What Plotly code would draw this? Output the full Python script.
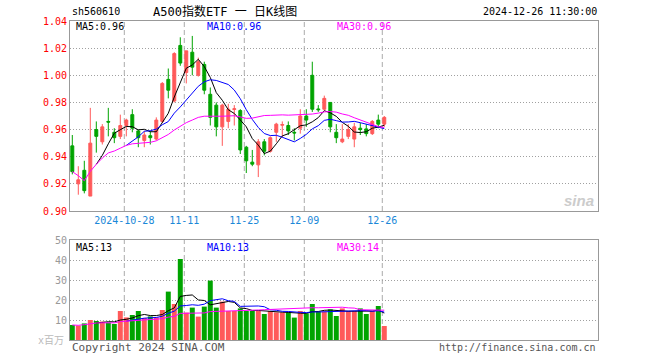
import plotly.graph_objects as go

# ---------------- data ----------------
dates = ["2024-10-15","2024-10-16","2024-10-17","2024-10-18","2024-10-21","2024-10-22","2024-10-23","2024-10-24","2024-10-25",
         "2024-10-28","2024-10-29","2024-10-30","2024-10-31","2024-11-01","2024-11-04","2024-11-05","2024-11-06","2024-11-07","2024-11-08",
         "2024-11-11","2024-11-12","2024-11-13","2024-11-14","2024-11-15","2024-11-18","2024-11-19","2024-11-20","2024-11-21","2024-11-22",
         "2024-11-25","2024-11-26","2024-11-27","2024-11-28","2024-11-29","2024-12-02","2024-12-03","2024-12-04","2024-12-05","2024-12-06",
         "2024-12-09","2024-12-10","2024-12-11","2024-12-12","2024-12-13","2024-12-16","2024-12-17","2024-12-18","2024-12-19","2024-12-20",
         "2024-12-23","2024-12-24","2024-12-25","2024-12-26"]
opens  = [0.948,0.920,0.930,0.911,0.960,0.951,0.966,0.958,0.955,0.963,0.971,0.959,0.952,0.9555,0.953,0.966,0.997,0.981,1.022,1.002,
          1.017,1.000,1.008,0.986,0.978,0.962,0.966,0.9748,0.974,0.947,0.936,0.934,0.951,0.944,0.958,0.9632,0.963,0.958,0.961,0.970,
          1.000,0.9752,0.975,0.980,0.958,0.951,0.955,0.953,0.961,0.9605,0.957,0.967,0.964]
highs  = [0.956,0.933,0.937,0.976,0.966,0.964,0.976,0.961,0.971,0.968,0.975,0.960,0.959,0.959,0.969,0.995,1.005,1.017,1.028,1.018,
          1.029,1.013,1.010,0.991,0.980,0.979,0.979,0.978,0.975,0.948,0.945,0.953,0.953,0.955,0.965,0.966,0.966,0.961,0.975,0.975,
          1.010,0.978,0.985,0.980,0.964,0.964,0.964,0.965,0.965,0.964,0.967,0.971,0.970]
lows   = [0.927,0.912,0.913,0.911,0.943,0.949,0.955,0.950,0.953,0.955,0.958,0.947,0.947,0.949,0.952,0.965,0.983,0.980,1.007,0.994,
          1.000,0.999,0.986,0.963,0.955,0.948,0.961,0.963,0.942,0.928,0.933,0.925,0.941,0.943,0.951,0.954,0.956,0.952,0.957,0.962,
          0.973,0.973,0.974,0.958,0.950,0.950,0.953,0.947,0.956,0.955,0.956,0.961,0.962]
closes = [0.929,0.923,0.915,0.950,0.955,0.962,0.9655,0.954,0.963,0.967,0.961,0.954,0.956,0.954,0.967,0.994,0.989,1.016,1.009,1.018,
          1.006,1.010,0.989,0.969,0.962,0.978,0.975,0.9753,0.945,0.937,0.9345,0.951,0.944,0.954,0.964,0.9637,0.959,0.9575,0.970,0.967,
          0.975,0.9746,0.983,0.962,0.954,0.953,0.960,0.962,0.960,0.957,0.966,0.964,0.969]
volumes = [7.5,7.2,8.3,10.0,9.5,9.2,8.7,8.0,14.5,11.3,12.5,14.5,11.0,11.8,11.3,15.0,24.2,18.0,40.5,13.7,
           16.2,11.7,16.7,29.7,16.2,19.2,14.5,14.5,15.8,14.5,14.5,14.5,13.0,14.5,13.8,13.8,13.8,11.2,14.5,13.3,
           18.0,14.2,14.2,15.3,12.0,15.8,14.5,14.5,15.8,13.0,14.5,17.0,7.0]
tick_dates  = ["2024-10-28","2024-11-11","2024-11-25","2024-12-09","2024-12-26"]
tick_labels = ["2024-10-28","11-11","11-25","12-09","12-26"]
price_ticks = [0.90,0.92,0.94,0.96,0.98,1.00,1.02,1.04]
vol_ticks = [10,20,30,40,50]
price_ma_labels = ["MA5:0.96","MA10:0.96","MA30:0.96"]
vol_ma_labels = ["MA5:13","MA10:13","MA30:14"]

RED = "#FF5A5A"
GREEN = "#00A400"
MA_COLORS = ["#000000","#0000FF","#FF00FF"]
MONO = "DejaVu Sans Mono, monospace"

n = len(dates)
xs = list(range(n))

def ma(vals, k, cumulative=False):
    out = []
    for i in range(len(vals)):
        if i + 1 >= k:
            out.append(sum(vals[i+1-k:i+1]) / k)
        elif cumulative:
            out.append(sum(vals[:i+1]) / (i + 1))
        else:
            out.append(None)
    return out

fig = go.Figure()

fig.add_trace(go.Candlestick(
    x=xs, open=opens, high=highs, low=lows, close=closes,
    increasing=dict(line=dict(color=RED, width=1), fillcolor=RED),
    decreasing=dict(line=dict(color=GREEN, width=1), fillcolor=GREEN),
    xaxis="x", yaxis="y", hoverinfo="skip", whiskerwidth=0))

for k, col, cum in [(5, MA_COLORS[0], False), (10, MA_COLORS[1], False), (30, MA_COLORS[2], True)]:
    fig.add_trace(go.Scatter(x=xs, y=ma(closes, k, cum), mode="lines",
                             line=dict(color=col, width=1), xaxis="x", yaxis="y", hoverinfo="skip"))

bar_colors = [RED if c >= o else GREEN for o, c in zip(opens, closes)]
fig.add_trace(go.Bar(x=xs, y=volumes, marker=dict(color=bar_colors, line=dict(width=0)),
                     width=0.83, xaxis="x2", yaxis="y2", hoverinfo="skip"))
for k, col, cum in [(5, MA_COLORS[0], False), (10, MA_COLORS[1], False), (30, MA_COLORS[2], True)]:
    fig.add_trace(go.Scatter(x=xs, y=ma(volumes, k, cum), mode="lines",
                             line=dict(color=col, width=1), xaxis="x2", yaxis="y2", hoverinfo="skip"))

W, H = 660, 360
xl, xr = 70, 598
p_top, p_bot = 21, 211
v_top, v_bot = 240, 340
xrange = [-0.383, 87.62]
dom_x = [xl / W, xr / W]

tick_idx = [dates.index(d) - 1/3 for d in tick_dates]

axis_common = dict(showline=True, mirror=True, linecolor="#999999", linewidth=1, zeroline=False,
                   fixedrange=True, automargin=False)

fig.update_layout(
    width=W, height=H, margin=dict(l=0, r=0, t=0, b=0, autoexpand=False),
    paper_bgcolor="white", plot_bgcolor="white", showlegend=False,
    boxgap=0.3,
    xaxis=dict(domain=dom_x, range=xrange, anchor="y", showgrid=False, rangeslider=dict(visible=False),
               tickmode="array", tickvals=tick_idx, ticktext=tick_labels, ticks="",
               tickfont=dict(family=MONO, size=10, color="#1A88D8"), **axis_common),
    yaxis=dict(domain=[1 - p_bot / H, 1 - p_top / H], range=[price_ticks[0], price_ticks[-1]], anchor="x",
               tickmode="array", tickvals=price_ticks, ticktext=[f"{v:.2f}" for v in price_ticks], ticks="",
               showgrid=True, gridcolor="#A0A0A0", griddash="1px,2px", gridwidth=1,
               tickfont=dict(family=MONO, size=10, color="#FF0000"), **axis_common),
    xaxis2=dict(domain=dom_x, range=xrange, anchor="y2", showgrid=False, showticklabels=False, ticks="", **axis_common),
    yaxis2=dict(domain=[1 - v_bot / H, 1 - v_top / H], range=[0, 50], anchor="x2",
                tickmode="array", tickvals=vol_ticks, ticktext=[str(v) for v in vol_ticks], ticks="",
                showgrid=True, gridcolor="#A0A0A0", griddash="1px,2px", gridwidth=1,
                tickfont=dict(family=MONO, size=10, color="#999999"), **axis_common),
)

shapes = []
for t in tick_idx:
    for xr_, yr_ in [("x", "y domain"), ("x2", "y2 domain")]:
        shapes.append(dict(type="line", xref=xr_, yref=yr_, x0=t, x1=t, y0=0, y1=1,
                           line=dict(color="#AAAAAA", width=1, dash="5px,3px"), layer="below"))
fig.update_layout(shapes=shapes)

ann = []
def txt(x, y, s, color="#000000", size=10, anchor="left", family=MONO, **kw):
    ann.append(dict(x=x / W, y=1 - y / H, xref="paper", yref="paper", text=s, showarrow=False,
                    xanchor=anchor, yanchor="middle", font=dict(family=family, size=size, color=color), **kw))

txt(70, 12, "sh560610")
txt(151, 12, "A500指数ETF 一 日K线图", size=12, family="DejaVu Sans Mono, Noto Sans CJK SC")
txt(599, 12, "2024-12-26 11:30:00", anchor="right")
for lbl, col, xpos in zip(price_ma_labels, MA_COLORS, [74, 205, 335]):
    txt(xpos, 27, lbl, color=col)
for lbl, col, xpos in zip(vol_ma_labels, MA_COLORS, [74, 205, 335]):
    txt(xpos, 247, lbl, color=col)
txt(66, 340, "x百万", color="#BBBBBB", anchor="right", family="DejaVu Sans Mono, Noto Sans CJK SC")
txt(70, 347, "Copyright 2024 SINA.COM", color="#555555", size=11)
txt(598, 347, "http://finance.sina.com.cn", color="#555555", anchor="right")
txt(596, 200, "<b><i>sina</i></b>", color="#CCCCCC", size=15, anchor="right", family="Arial, Liberation Sans")
fig.update_layout(annotations=ann)

fig.write_html("out.html", config={"displayModeBar": False},
               post_script="document.body.style.margin='0';document.body.style.padding='0';")
